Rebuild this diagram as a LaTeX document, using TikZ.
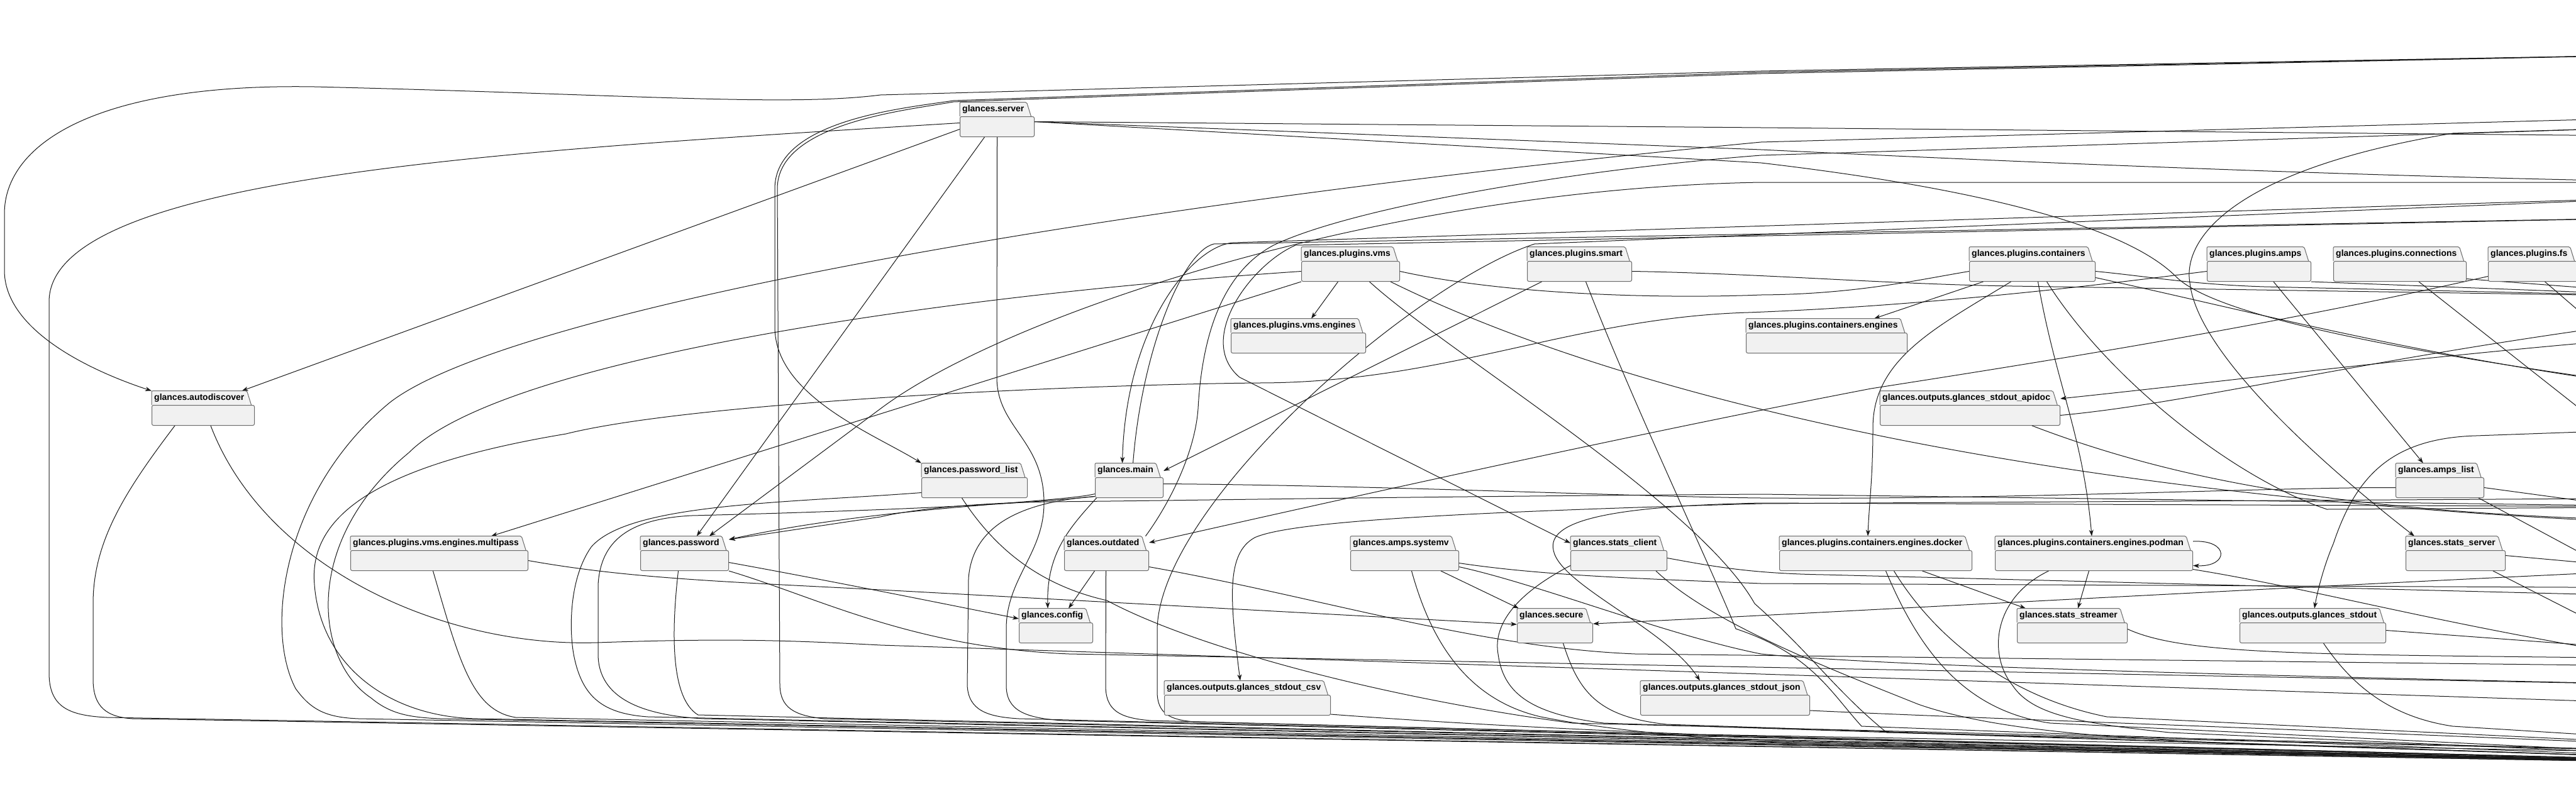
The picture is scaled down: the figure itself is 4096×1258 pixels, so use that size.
\documentclass[tikz,border=0pt]{standalone}
\usepackage{fontspec}
\setmainfont{Liberation Sans}
\usepackage{xcolor}
\usetikzlibrary{arrows.meta}
\usetikzlibrary{backgrounds}

\definecolor{pkgfill}{HTML}{F1F1F1}
\definecolor{pkgline}{HTML}{6A6A6A}
\definecolor{depline}{HTML}{181818}

% Paket mit Reiter: Name, x, y (Reiter oben), Breite, Beschriftung
\newcommand{\pkg}[5]{%
  \node[pkgtab] (#1-tab) at (#2,#3+22) {#5};
  \fill[pkgfill] (#1-tab.north east) -- ([xshift=7pt]#1-tab.south east) -- (#1-tab.south east) -- cycle;
  \draw[pkgedge] (#1-tab.south west) -- (#1-tab.north west) -- (#1-tab.north east) -- ([xshift=7pt]#1-tab.south east);
  \node[pkgbody, minimum width=#4pt] (#1) at (#2,#3+22) {};
}

\begin{document}
\begin{tikzpicture}[
    x=1pt, y=-1pt,
    % Stil für Pakete
    pkgtab/.style={anchor=south west, fill=pkgfill, font=\bfseries\fontsize{14}{16}\selectfont, inner xsep=4pt, inner ysep=0pt, minimum height=22pt},
    pkgedge/.style={draw=pkgline, line width=1pt, rounded corners=2pt},
    pkgbody/.style={anchor=north west, draw=pkgline, fill=pkgfill, line width=1pt, rounded corners=2.5pt, minimum height=32pt, inner sep=0pt},
    % Stil für Abhängigkeiten
    dep/.style={draw=depline, line width=1pt},
    arr/.style={dep, -{Stealth[length=10pt, width=7pt, inset=3pt]}}]

  \useasboundingbox (0,0) rectangle (4096,1258);

  % Knoten
  \pkg{server}{1526}{163}{118}{glances.server}
  \pkg{vms}{2069}{393}{156}{glances.plugins.vms}
  \pkg{smart}{2428}{393}{166}{glances.plugins.smart}
  \pkg{containers}{3131}{393}{200}{glances.plugins.containers}
  \pkg{amps}{3509}{393}{165}{glances.plugins.amps}
  \pkg{connections}{3710}{393}{211}{glances.plugins.connections}
  \pkg{fs}{3956}{393}{180}{glances.plugins.fs}
  \pkg{vmsengines}{1957}{507}{214}{glances.plugins.vms.engines}
  \pkg{cengines}{2776}{507}{256}{glances.plugins.containers.engines}
  \pkg{autodiscover}{241}{622}{163}{glances.autodiscover}
  \pkg{apidoc}{2989}{622}{286}{glances.outputs.glances\_stdout\_apidoc}
  \pkg{passwordlist}{1465}{737}{168}{glances.password\_list}
  \pkg{main}{1741}{737}{108}{glances.main}
  \pkg{ampslist}{3809}{737}{140}{glances.amps\_list}
  \pkg{multipass}{557}{853}{282}{glances.plugins.vms.engines.multipass}
  \pkg{password}{1018}{853}{140}{glances.password}
  \pkg{outdated}{1692}{853}{134}{glances.outdated}
  \pkg{systemv}{2147}{853}{172}{glances.amps.systemv}
  \pkg{statsclient}{2497}{853}{153}{glances.stats\_client}
  \pkg{docker}{2829}{853}{306}{glances.plugins.containers.engines.docker}
  \pkg{podman}{3172}{853}{314}{glances.plugins.containers.engines.podman}
  \pkg{statsserver}{3825}{853}{158}{glances.stats\_server}
  \pkg{config}{1620}{968}{117}{glances.config}
  \pkg{secure}{2412}{968}{120}{glances.secure}
  \pkg{streamer}{3207}{968}{175}{glances.stats\_streamer}
  \pkg{stdout}{3561}{968}{232}{glances.outputs.glances\_stdout}
  \pkg{csv}{1851}{1083}{264}{glances.outputs.glances\_stdout\_csv}
  \pkg{json}{2608}{1083}{269}{glances.outputs.glances\_stdout\_json}

  % Ziele rechts ausserhalb des Bildes
  \coordinate (cbrowser)    at (4300,86);
  \coordinate (client)      at (4300,185);
  \coordinate (webserver)   at (4300,200);
  \coordinate (standalone)  at (4300,217);
  \coordinate (stats)       at (4300,290);
  \coordinate (timer)       at (4300,312);
  \coordinate (ports)       at (4300,345);
  \coordinate (plugin)      at (4300,472);
  \coordinate (cpupercent)  at (4300,500);
  \coordinate (filter)      at (4300,530);
  \coordinate (history)     at (4300,625);
  \coordinate (diskio)      at (4300,666);
  \coordinate (outputs)     at (4300,680);
  \coordinate (curses)      at (4300,792);
  \coordinate (events)      at (4300,806);
  \coordinate (mem)         at (4300,823);
  \coordinate (network)     at (4300,830);
  \coordinate (alerts)      at (4300,835);
  \coordinate (actions)     at (4300,903);
  \coordinate (irq)         at (4300,912);
  \coordinate (thresholds)  at (4300,935);
  \coordinate (exports)     at (4300,950);
  \coordinate (memswap)     at (4300,985);
  \coordinate (quicklook)   at (4300,1040);
  \coordinate (processlist) at (4300,1048);
  \coordinate (attribute)   at (4300,1060);
  \coordinate (load)        at (4300,1079);
  \coordinate (compat)      at (4300,1090);
  \coordinate (sensors)     at (4300,1121);
  \coordinate (logger)      at (4700,1205);
  \coordinate (globals)     at (4700,1220);

  % Kanten
  \begin{scope}[on background layer]
    \fill[white] (0,0) rectangle (4096,1258);
    \clip (0,0) rectangle (4096,1258);

    % client_browser
    \draw[arr] (cbrowser) -- (2800,113) -- (1400,151) .. controls (1250,170) and (1000,150) .. (500,138) .. controls (150,132) and (7,230) .. (7,340) -- (7,430) .. controls (7,520) and (130,585) .. (autodiscover-tab.north west);
    \draw[arr] (cbrowser) -- (2800,115) -- (1516,160) .. controls (1440,172) and (1232,190) .. (1232,300) -- (1232,520) .. controls (1232,630) and (1390,690) .. (passwordlist-tab.north west);
    \draw[arr] (cbrowser) -- (2800,117) -- (1516,162) .. controls (1445,175) and (1236,195) .. (1236,300) -- (1240,1090) .. controls (1241,1125) and (1262,1138) .. (1310,1143) -- (globals);
    \draw[arr] (client) -- (2800,226) .. controls (1700,330) and (800,500) .. (620,640) .. controls (450,780) and (420,1000) .. (470,1095) .. controls (495,1130) and (520,1141) .. (570,1143) -- (globals);

    % server
    \draw[arr] ([yshift=-4pt]server.west) -- ([xshift=-8pt]autodiscover-tab.north east);
    \draw[arr] ([xshift=-20pt]server.south) -- ([xshift=-40pt]password-tab.north east);
    \draw[arr] ([yshift=6pt]server.west) .. controls (800,240) and (78,280) .. (78,480) -- (78,1070) .. controls (78,1125) and (110,1138) .. (170,1141) -- (globals);
    \draw[arr] (server.south) -- (1585,600) .. controls (1585,680) and (1660,700) .. (1660,800) .. controls (1660,880) and (1600,920) .. (1600,1000) -- (1600,1090) .. controls (1600,1130) and (1630,1142) .. (1690,1146) -- (globals);
    \draw[arr] ([yshift=8pt]server.east) -- (2800,203) -- (standalone);
    \draw[arr] ([yshift=8pt]server.east) -- (2800,238) .. controls (3300,262) and (3800,282) .. (stats);
    \draw[arr] ([yshift=8pt]server.east) -- (2800,259) .. controls (3150,300) and (3380,360) .. (3460,440) .. controls (3520,500) and (3800,560) .. (history);

    % plugins.vms
    \draw[arr] (vms.south west) -- ([xshift=224pt]multipass-tab.north west);
    \draw[arr] ([xshift=-20pt]vms.south) -- ([xshift=128pt]vmsengines-tab.north west);
    \draw[arr] (vms.west) .. controls (1500,470) and (800,570) .. (650,720) .. controls (480,860) and (500,1050) .. (590,1110) .. controls (620,1135) and (650,1141) .. (700,1143) -- (globals);
    \draw[dep] (vms.east) .. controls (2400,470) and (2650,475) .. (2800,469) .. controls (2950,468) and (3050,445) .. (containers.west);
    \draw[arr] ([xshift=30pt]vms.south) .. controls (2300,560) and (2700,800) .. (2790,960) .. controls (2880,1040) and (2920,1100) .. (3000,1165) -- (logger);
    \draw[arr] ([xshift=-15pt]vms.south east) .. controls (2600,640) and (3300,800) .. (alerts);

    % plugins.smart
    \draw[arr] ([xshift=-60pt]smart.south) -- ([yshift=10pt]main.north east);
    \draw[arr] (smart.east) .. controls (2800,435) and (3000,452) .. (3200,455) -- (plugin);
    \draw[arr] ([xshift=10pt]smart.south) .. controls (2600,650) and (2720,900) .. (2760,1000) .. controls (2880,1040) and (2910,1100) .. (2960,1155) -- (globals);

    % plugins.containers
    \draw[arr] ([xshift=-78pt]containers.south) -- ([xshift=204pt]cengines-tab.north west);
    \draw[arr] ([xshift=-34pt]containers.south) .. controls (3080,520) and (2978,570) .. (2978,680) .. controls (2978,760) and (2972,800) .. ([xshift=141pt]docker-tab.north west);
    \draw[arr] ([xshift=9pt]containers.south) .. controls (3268,607) and (3312,691) .. ([xshift=154pt]podman-tab.north west);
    \draw[arr] ([xshift=23pt]containers.south) .. controls (3350,600) and (3550,760) .. (3700,810) -- (events);
    \draw[arr] (containers.east) .. controls (3420,440) and (3480,452) .. (3600,456) -- (plugin);
    \draw[arr] ([yshift=-10pt]containers.east) .. controls (3600,500) and (3900,580) .. (history);

    % plugins.amps, connections, fs
    \draw[arr] ([xshift=23pt]amps.south) -- ([xshift=44pt]ampslist-tab.north west);
    \draw[arr] (amps.west) .. controls (3400,445) and (3100,485) .. (2780,497) .. controls (2500,505) and (2300,609) .. (2000,609) .. controls (1700,612) and (1100,640) .. (900,690) .. controls (600,740) and (490,820) .. (500,930) .. controls (510,1060) and (620,1141) .. (760,1143) -- (globals);
    \draw[arr] (amps.south east) -- (plugin);
    \draw[arr] ([xshift=30pt]connections.south) -- (events);
    \draw[arr] ([yshift=-12pt]connections.east) -- (plugin);
    \draw[arr] ([yshift=-8pt]fs.west) .. controls (3600,520) and (3250,575) .. (2975,618) .. controls (2600,690) and (2150,790) .. ([yshift=12pt]outdated.north east);
    \draw[arr] (fs.south) -- (diskio);

    % outputs.glances_stdout_apidoc
    \draw[arr] (filter) .. controls (3900,560) and (3600,600) .. ([yshift=10pt]apidoc.north east);
    \draw[arr] (apidoc.east) .. controls (3500,640) and (3800,560) .. (cpupercent);
    \draw[arr] ([xshift=-45pt]apidoc.south east) .. controls (3500,780) and (3800,820) .. (network);

    % autodiscover, multipass
    \draw[arr] ([xshift=-45pt]autodiscover.south) .. controls (200,780) and (148,860) .. (148,960) -- (148,1080) .. controls (148,1125) and (170,1140) .. (210,1143) -- (globals);
    \draw[arr] ([xshift=12pt]autodiscover.south) .. controls (420,900) and (700,1030) .. (950,1022) .. controls (1150,1015) and (1250,1018) .. (1400,1026) -- (2800,1072) -- (sensors);
    \draw[arr] (multipass.east) .. controls (1000,920) and (1150,925) .. (1400,938) -- ([yshift=-3pt]secure.north west);
    \draw[arr] ([xshift=-10pt]multipass.south) .. controls (730,1050) and (750,1130) .. (820,1141) -- (globals);

    % password, password_list
    \draw[arr] (stats) -- (2800,290) .. controls (2200,300) and (1600,500) .. (1400,650) -- ([xshift=-20pt]password-tab.north east);
    \draw[arr] (events) -- (2800,786) .. controls (2200,790) and (1900,796) .. (1668,798) .. controls (1550,800) and (1450,810) .. (1400,822) -- ([yshift=17pt]password.north east);
    \draw[arr] ([yshift=-3pt]password.east) .. controls (1300,920) and (1450,950) .. ([yshift=6pt]config.north west);
    \draw[arr] (password.south east) .. controls (1300,950) and (1450,1030) .. (1700,1040) -- (compat);
    \draw[arr] ([xshift=-10pt]password.south) .. controls (1068,1000) and (1065,1110) .. (1110,1137) -- (globals);
    \draw[arr] ([xshift=-20pt]passwordlist.south) .. controls (1580,870) and (1650,930) .. (1760,955) .. controls (1900,1030) and (2200,1110) .. (2500,1150) -- (logger);
    \draw[arr] ([yshift=-8pt]passwordlist.west) .. controls (1250,800) and (1000,800) .. (940,870) .. controls (905,920) and (905,1000) .. (912,1040) .. controls (925,1110) and (960,1135) .. (1030,1140) -- (globals);

    % main
    \draw[arr] ([xshift=-52pt]main.south) .. controls (1700,840) and (1664,880) .. ([xshift=46pt]config-tab.north west);
    \draw[arr] ([xshift=-19pt]outdated.south) -- ([xshift=79pt]config-tab.north west);
    \draw[arr] (timer) -- (1960,386) .. controls (1895,392) and (1790,520) .. ([xshift=-5pt]main-tab.north);
    \draw[arr] ([xshift=12pt]main-tab.north) .. controls (1815,560) and (1880,400) .. (1930,388) -- (ports);
    \draw[arr] ([yshift=-10pt]main.west) .. controls (1680,800) and (1400,805) .. ([yshift=17pt]password.north east);
    \draw[arr] ([yshift=-14pt]main.west) .. controls (1600,805) and (1300,815) .. (1100,820) .. controls (1000,825) and (955,860) .. (951,930) -- (951,1040) .. controls (951,1110) and (1020,1138) .. (1120,1143) -- (globals);
    \draw[arr] ([yshift=-14pt]main.west) .. controls (1600,800) and (1545,850) .. (1540,920) -- (1538,1090) .. controls (1540,1130) and (1570,1140) .. (1620,1143) -- (globals);
    \draw[dep] ([yshift=6pt]main.east) .. controls (2200,772) and (2600,790) .. (2800,792) .. controls (3200,795) and (3600,775) .. (ampslist.west);

    % outdated
    \draw[arr] ([xshift=6pt]outdated-tab.north east) .. controls (1860,800) and (1900,720) .. (1905,650) .. controls (1912,520) and (1950,430) .. (2025,390) .. controls (2150,330) and (2500,270) .. (2800,247) -- (webserver);
    \draw[arr] ([xshift=-1pt]outdated.south) -- (1758,1090) .. controls (1758,1130) and (1780,1142) .. (1830,1146) -- (globals);
    \draw[arr] ([yshift=-10pt]outdated.east) .. controls (2100,950) and (2350,1030) .. (2600,1040) -- (attribute);

    % ports, timer
    \draw[arr] (ports) -- (2060,390) .. controls (1990,420) and (1900,540) .. (1971,600) -- (statsclient-tab.west);
    \draw[arr] (timer) -- (2440,388) .. controls (2250,450) and (1845,800) .. (1840,1000) -- (1840,1100) .. controls (1840,1135) and (1860,1145) .. (1900,1148) -- (globals);

    % amps.systemv
    \draw[arr] ([xshift=-29pt]systemv.south east) -- ([xshift=3pt]secure-tab.north west);
    \draw[arr] ([xshift=11pt]systemv.south) .. controls (2270,1000) and (2320,1110) .. (2450,1140) .. controls (2550,1160) and (2700,1175) .. (2850,1182) -- (globals);
    \draw[arr] ([yshift=-4pt]systemv.east) .. controls (2450,915) and (2600,920) .. (2800,928) -- (thresholds);
    \draw[arr] ([yshift=-10pt]systemv.east) .. controls (2450,930) and (2650,1010) .. (2800,1040) .. controls (3000,1060) and (3600,1075) .. (compat);

    % stats_client
    \draw[arr] ([yshift=4pt]statsclient.east) .. controls (2720,900) and (2780,912) .. (2900,914) -- (exports);
    \draw[arr] ([xshift=-18pt]statsclient.south east) .. controls (2720,990) and (2900,1060) .. (3050,1120) .. controls (3150,1155) and (3300,1170) .. (3500,1180) -- (globals);
    \draw[arr] ([yshift=-8pt]statsclient.west) .. controls (2400,950) and (2375,1000) .. (2382,1040) .. controls (2390,1100) and (2430,1135) .. (2550,1150) -- (globals);

    % secure
    \draw[arr] (actions) .. controls (3600,935) and (2900,975) .. ([yshift=-2pt]secure.north east);
    \draw[arr] ([xshift=13pt]secure.south) .. controls (2510,1100) and (2540,1140) .. (2650,1152) -- (globals);

    % stdout_csv, stdout_json
    \draw[arr] (curses) -- (2800,801) .. controls (2300,815) and (2050,830) .. (1995,855) .. controls (1950,880) and (1955,950) .. ([xshift=121pt]csv-tab.north west);
    \draw[arr] ([yshift=2pt]csv.south east) .. controls (2300,1150) and (2500,1160) .. (2700,1168) -- (logger);
    \draw[arr] (events) -- (2800,800) .. controls (2550,805) and (2460,830) .. (2470,875) .. controls (2480,930) and (2650,1000) .. ([xshift=95pt]json-tab.north west);
    \draw[arr] ([yshift=8pt]json.south east) .. controls (3200,1145) and (3700,1160) .. (logger);

    % engines.docker, engines.podman
    \draw[arr] ([xshift=74pt]docker.south) -- ([xshift=14pt]streamer-tab.north west);
    \draw[arr] ([xshift=-8pt]podman.south) -- ([xshift=97pt]streamer-tab.north west);
    \draw[arr] ([xshift=16pt]docker.south) .. controls (3050,1030) and (3120,1130) .. (3260,1150) -- (globals);
    \draw[arr] ([xshift=29pt]docker.south) .. controls (3080,1020) and (3200,1110) .. (3350,1140) -- (logger);
    \draw[arr] ([yshift=14pt]podman.north east) .. controls (3545,858) and (3545,902) .. ([yshift=-8pt]podman.east);
    \draw[arr] ([xshift=-72pt]podman.south) .. controls (3170,950) and (3160,1040) .. (3200,1090) .. controls (3230,1135) and (3300,1150) .. (3450,1165) -- (globals);
    \draw[arr] ([yshift=-14pt]podman.east) .. controls (3700,940) and (3900,1000) .. (attribute);

    % stats_streamer, glances_stdout
    \draw[arr] ([yshift=6pt]streamer.east) .. controls (3480,1045) and (3700,1040) .. (processlist);
    \draw[arr] (outputs) -- (3937,693) .. controls (3800,697) and (3745,760) .. (3710,865) .. controls (3695,900) and (3685,940) .. ([xshift=119pt]stdout-tab.north west);
    \draw[arr] ([xshift=17pt]stdout.south) .. controls (3740,1090) and (3800,1140) .. (3900,1155) -- (logger);
    \draw[arr] ([yshift=4pt]stdout.east) -- (quicklook);

    % stats_server, amps_list
    \draw[arr] (webserver) -- (3900,212) .. controls (3550,270) and (3470,380) .. (3482,450) .. controls (3495,570) and (3720,760) .. ([xshift=14pt]statsserver-tab.north west);
    \draw[arr] ([yshift=8pt]statsserver.east) -- (irq);
    \draw[arr] ([xshift=-20pt]statsserver.south east) -- (load);
    \draw[arr] (ampslist.east) -- (mem);
    \draw[arr] ([xshift=-9pt]ampslist.south east) -- (memswap);
  \end{scope}
\end{tikzpicture}
\end{document}
